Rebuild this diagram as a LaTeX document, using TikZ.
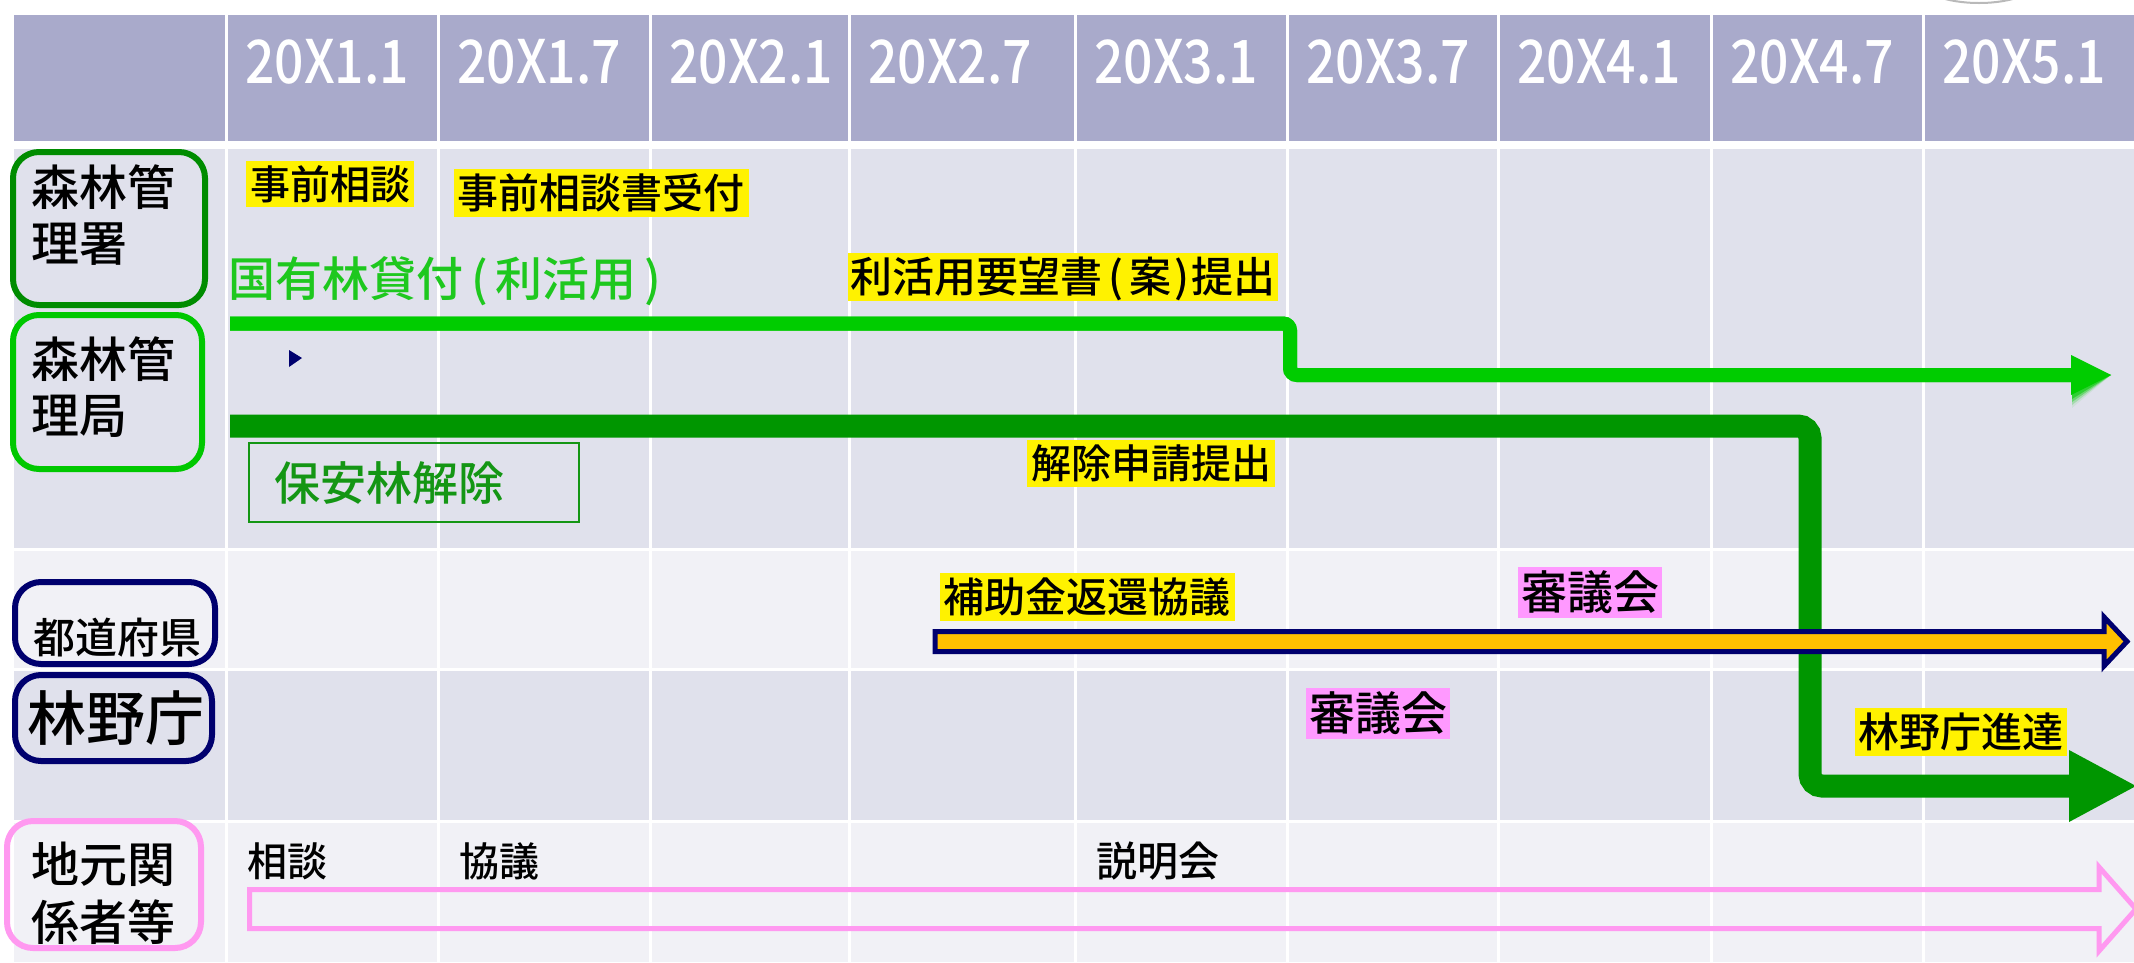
\documentclass[tikz,border=0pt]{standalone}
\usepackage{fontspec}
\setmainfont{Noto Sans CJK JP}[UprightFont={* Medium}, BoldFont={* Bold}]
\definecolor{hdr}{RGB}{169,170,203}
\definecolor{rowA}{RGB}{224,225,236}
\definecolor{rowB}{RGB}{241,241,246}
\definecolor{lgreen}{RGB}{0,204,0}
\definecolor{dgreen}{RGB}{0,150,0}
\definecolor{bgreen}{RGB}{0,200,0}
\definecolor{mgreen}{RGB}{0,140,0}
\definecolor{navyc}{RGB}{0,0,110}
\definecolor{orangec}{RGB}{255,192,0}
\definecolor{pinkc}{RGB}{255,153,240}
\definecolor{pinkbg}{RGB}{255,153,255}
\definecolor{tgreen}{RGB}{30,200,30}
\definecolor{bxgreen}{RGB}{20,150,20}
\newcommand\fsz[1]{\fontsize{#1}{#1}\selectfont}
\tikzset{
  jt/.code={\pgfmathsetmacro\jth{0.88*#1}\pgfmathsetmacro\jtd{0.12*#1}%
    \pgfkeysalso{inner sep=0pt, font=\fsz{#1}, text height=\jth pt, text depth=\jtd pt}},
  yb/.style={jt=#1, fill=yellow, inner xsep=4pt, inner ysep=3pt},
  pb/.style={jt=#1, fill=pinkbg, inner xsep=3pt, inner ysep=2.5pt},
  lbox/.style={line width=6, rounded corners=26},
  lbltxt/.style={anchor=west, inner sep=0pt, align=left},
  hdrtxt/.style={anchor=west, text=white, font=\fsz{60}, inner sep=0pt},
  gridline/.style={white, line width=3},
  garrow/.style={lgreen, line width=14, rounded corners=7},
}
\begin{document}
\begin{tikzpicture}[x=1pt,y=-1pt]
\useasboundingbox (0,0) rectangle (2134,962);
\fill[white] (0,0) rectangle (2134,962);
% header and rows
\fill[hdr] (14,15) rectangle (2134,141);
\fill[rowA] (14,149) rectangle (2134,548);
\fill[rowB] (14,551) rectangle (2134,668);
\fill[rowA] (14,671) rectangle (2134,820);
\fill[rowB] (14,823) rectangle (2134,962);
\foreach \x in {226,438,650,849,1075,1287,1498,1711,1923}
  \draw[gridline] (\x,15) -- (\x,962);
% partial ellipse top right
\draw[gray!55, line width=2] (1979,-20) ellipse [x radius=60, y radius=23];
% header texts
\foreach \x/\t [count=\i] in {226/20X1.1,438/20X1.7,650/20X2.1,849/20X2.7,1075/20X3.1,1287/20X3.7,1498/20X4.1,1711/20X4.7,1923/20X5.1}
  \node[hdrtxt] (h\i) at (\x+19,62) {\scalebox{0.86}[1]{\t}};
% left label boxes
\draw[lbox, mgreen] (13,152) rectangle (205,305);
\node[lbltxt, font=\fontsize{48}{56}\selectfont] (l1) at (31,215) {森林管\\理署};
\draw[lbox, bgreen] (13,315) rectangle (202,469);
\node[lbltxt, font=\fontsize{48}{56}\selectfont] (l2) at (31,387) {森林管\\理局};
\draw[lbox, navyc] (15,582) rectangle (215,664);
\node[jt=42] (l3) at (117,638) {都道府県};
\draw[lbox, navyc] (15,675) rectangle (212,761);
\node[jt=59] (l4) at (116,718) {林野庁};
\draw[lbox, pinkc] (7,821) rectangle (201,948);
\node[lbltxt, font=\fontsize{48}{58}\selectfont] (l5) at (31,893) {地元関\\係者等};
% light green arrow with soft shadow
\coordinate (ga) at (230,323.5);
\coordinate (gb) at (1290,323.5);
\coordinate (gc) at (1290,375);
\coordinate (gd) at (2073,375);
\coordinate (gt) at (2111,375);
\foreach \s/\o in {4/0.55,7/0.35,10/0.2,13/0.08}{
  \begin{scope}[yshift=-\s pt, xshift=1pt, opacity=\o]
    \draw[garrow] (ga) -- (gb) -- (gc) -- (gd);
    \fill[lgreen] (2071,355) -- (gt) -- (2071,395) -- cycle;
  \end{scope}
}
\draw[garrow] (ga) -- (gb) -- (gc) -- (gd);
\fill[lgreen] (2071,355) -- (gt) -- (2071,395) -- cycle;
% small navy triangle
\fill[navyc] (289,350) -- (302,358) -- (289,367) -- cycle;
% dark green arrow
\coordinate (da) at (230,426);
\coordinate (db) at (1810,426);
\coordinate (dc) at (1810,786);
\coordinate (dd) at (2072,786);
\coordinate (dt) at (2136,786);
\draw[dgreen, line width=23, rounded corners=12] (da) -- (db) -- (dc) -- (dd);
\fill[dgreen] (2069,750) -- (dt) -- (2069,822) -- cycle;
% orange arrow
\draw[navyc, fill=orangec, line width=5] (935,631.5) -- (2104,631.5) -- (2104,617) -- (2127,641.5) -- (2104,666) -- (2104,651.5) -- (935,651.5) -- cycle;
% pink hollow arrow
\draw[pinkc, line width=5] (249.5,889.5) -- (2099,889.5) -- (2099,867) -- (2136,909) -- (2099,951) -- (2099,928.5) -- (249.5,928.5) -- cycle;
% 保安林解除 box
\draw[bxgreen, line width=2] (249,443) rectangle (579,522);
\node[jt=46, text=bxgreen] (hoan) at (389,483) {保安林解除};
% labels row 1
\node[yb=40] (t1) at (330,184) {事前相談};
\node[yb=41, inner ysep=3.5pt] (t2) at (601,193) {事前相談書受付};
\node[jt=47, text=tgreen] (t3) at (445,279) {国有林貸付\kern8pt(\kern8pt利活用\kern8pt)};
\node[yb=42, inner xsep=3pt, inner ysep=3pt] (t4) at (1063,277) {利活用要望書\kern6pt(\kern6pt案\kern3pt)\kern2pt提出};
\node[yb=40, inner ysep=3.5pt] (t5) at (1151,463) {解除申請提出};
% row 2
\node[yb=41, inner ysep=3.5pt] (t6) at (1087,597) {補助金返還協議};
\node[pb=46] (t7) at (1590,592) {審議会};
% row 3
\node[pb=46] (t8) at (1378,713) {審議会};
\node[yb=41, inner xsep=3.5pt, inner ysep=3.5pt] (t9) at (1961,732) {林野庁進達};
% row 4
\node[jt=40] (t10) at (287,861) {相談};
\node[jt=40] (t11) at (499,861) {協議};
\node[jt=41] (t12) at (1158,861) {説明会};
\end{tikzpicture}
\end{document}
